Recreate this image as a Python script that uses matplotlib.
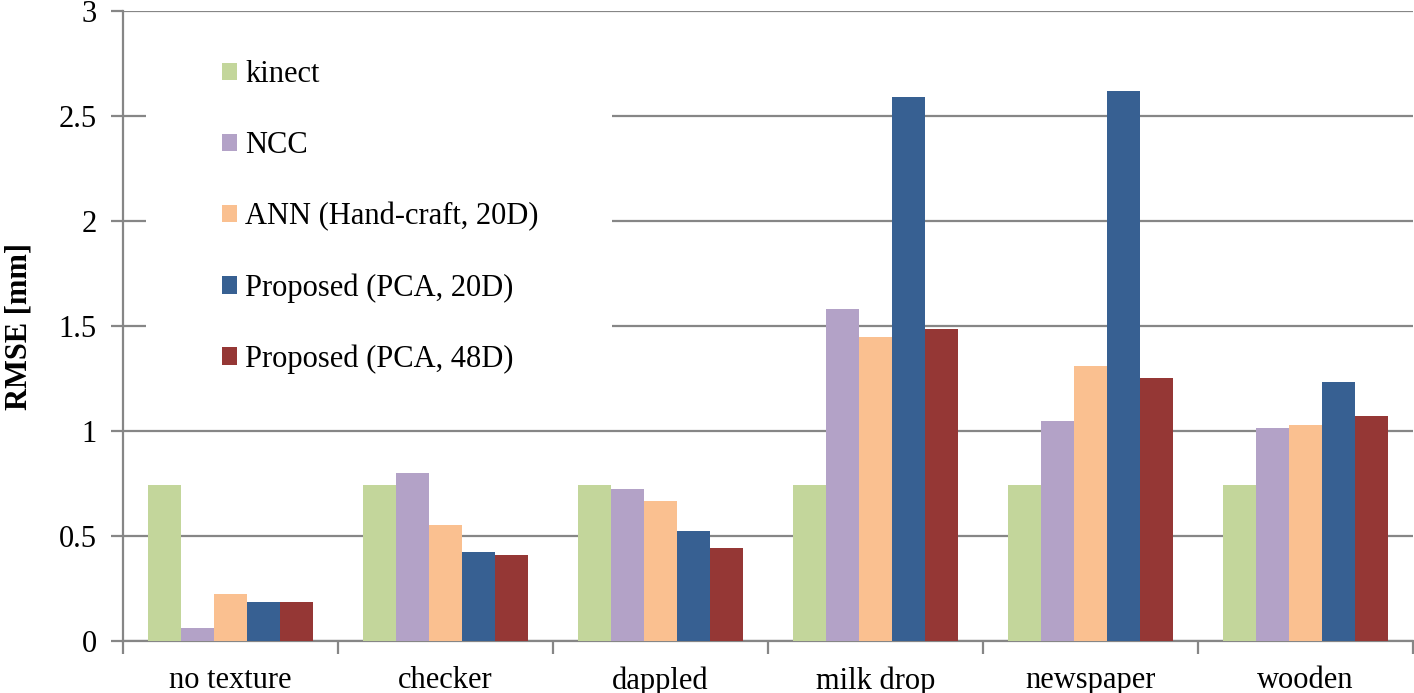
import numpy as np
import matplotlib
matplotlib.use("Agg")
import matplotlib.pyplot as plt
from matplotlib.patches import Rectangle

plt.rcParams['font.family'] = ['Liberation Serif', 'DejaVu Serif']

# Data (RMSE in mm)
categories = ["no texture", "checker", "dappled", "milk drop", "newspaper", "wooden"]
series_names = ["kinect", "NCC", "ANN (Hand-craft, 20D)",
                "Proposed (PCA, 20D)", "Proposed (PCA, 48D)"]
kinect = [0.745, 0.745, 0.745, 0.745, 0.745, 0.745]
ncc = [0.062, 0.80, 0.725, 1.58, 1.048, 1.014]
ann_hand = [0.224, 0.552, 0.665, 1.449, 1.31, 1.029]
pca_20d = [0.184, 0.422, 0.525, 2.59, 2.62, 1.233]
pca_48d = [0.184, 0.41, 0.445, 1.486, 1.252, 1.071]
colors = ["#C3D69B", "#B3A2C7", "#FAC090", "#376092", "#953735"]

series = [kinect, ncc, ann_hand, pca_20d, pca_48d]

FS = 22

fig = plt.figure(figsize=(14.14, 6.93), dpi=100)
ax = fig.add_axes([123/1414, 52/693, 1290/1414, 630/693])

grid_col = "#868686"
n = len(categories)
x = np.arange(n) + 0.5
width = 0.1534

for j, (vals, name, c) in enumerate(zip(series, series_names, colors)):
    ax.bar(x + (j - 2) * width, vals, width, color=c, label=name, zorder=3)

ax.set_xlim(0, n)
ax.set_ylim(0, 3)
ax.set_yticks(np.arange(0, 3.01, 0.5))
ax.set_yticklabels(["0", "0.5", "1", "1.5", "2", "2.5", "3"])
ax.yaxis.grid(True, color=grid_col, linewidth=1.6, zorder=0)
ax.set_axisbelow(True)

ax.set_xticks(np.arange(n + 1))
ax.set_xticklabels([])
ax.set_xticks(x, minor=True)
ax.set_xticklabels(categories, minor=True)
ax.tick_params(axis='x', which='minor', length=0, pad=18, labelsize=FS)
ax.tick_params(axis='x', which='major', direction='out', length=9,
               width=1.6, color=grid_col)
ax.tick_params(axis='y', direction='out', length=9, width=1.6,
               color=grid_col, pad=10, labelsize=FS)

for s in ['top', 'right']:
    ax.spines[s].set_visible(False)
for s in ['left', 'bottom']:
    ax.spines[s].set_color(grid_col)
    ax.spines[s].set_linewidth(1.6)

ax.set_ylabel("RMSE [mm]", fontsize=FS, fontweight='bold', labelpad=18)

# white area behind legend hides the grid lines there
ax.add_patch(Rectangle((0.018, 0.45), 0.361, 0.48, transform=ax.transAxes,
                       facecolor='white', edgecolor='none', zorder=1))

ax.legend(loc='upper left', bbox_to_anchor=(0.065, 0.946), frameon=False,
          fontsize=FS, handlelength=0.5, handleheight=0.5,
          handletextpad=0.25, labelspacing=1.37, borderpad=0)

fig.savefig("out.png", dpi=100)
